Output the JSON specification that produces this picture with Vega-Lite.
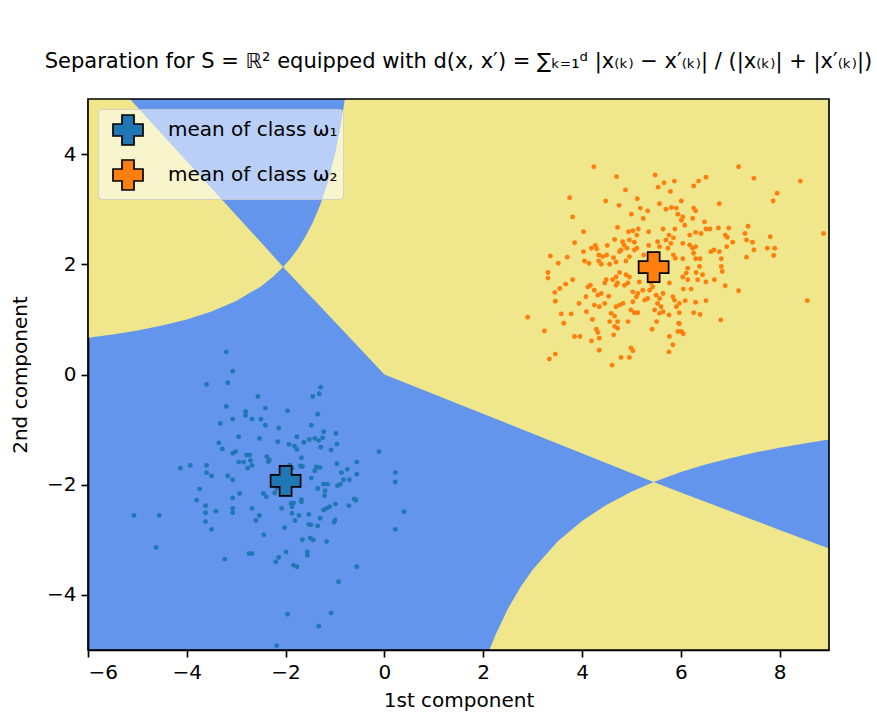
{
  "$schema": "https://vega.github.io/schema/vega-lite/v6.json",
  "width": 741,
  "height": 551,
  "autosize": {"type": "none"},
  "padding": {"left": 88, "top": 99, "right": 48, "bottom": 63},
  "background": "white",
  "title": {
    "text": "Separation for S = ℝ² equipped with d(x, x′) = ∑ₖ₌₁ᵈ |x₍ₖ₎ − x′₍ₖ₎| / (|x₍ₖ₎| + |x′₍ₖ₎|)",
    "anchor": "middle",
    "offset": 9,
    "baseline": "alphabetic",
    "font": "DejaVu Sans",
    "fontSize": 21,
    "fontWeight": "normal",
    "color": "black"
  },
  "config": {
    "view": {"fill": "#6495ED", "stroke": null},
    "axis": {
      "domainColor": "black", "domainWidth": 1.66,
      "tickColor": "black", "tickWidth": 1.66, "tickSize": 7,
      "labelFont": "DejaVu Sans", "labelFontSize": 20, "labelColor": "black", "labelPadding": 5,
      "titleFont": "DejaVu Sans", "titleFontSize": 20, "titleColor": "black", "titleFontWeight": "normal",
      "grid": false, "zindex": 1
    },
    "axisX": {"titlePadding": 8},
    "axisY": {"titlePadding": 16},
    "legend": {
      "orient": "top-left", "offset": 10, "padding": 5,
      "fillColor": "rgba(255,255,255,0.55)", "strokeColor": "rgba(204,204,204,0.8)", "cornerRadius": 4,
      "labelFont": "DejaVu Sans", "labelFontSize": 20, "labelColor": "black", "labelLimit": 500,
      "symbolType": "cross", "symbolSize": 900, "symbolStrokeColor": "black", "symbolStrokeWidth": 1.7,
      "symbolOffset": 9, "labelOffset": 24, "rowPadding": 7
    }
  },
  "datasets": {
    "bg": [
      {"r": "A", "x": -6, "lo": 0.666, "hi": 5},
      {"r": "A", "x": -5.5, "lo": 0.727, "hi": 5},
      {"r": "A", "x": -5.15, "lo": 0.776, "hi": 5},
      {"r": "A", "x": -5, "lo": 0.800, "hi": 4.85},
      {"r": "A", "x": -4.5, "lo": 0.888, "hi": 4.36},
      {"r": "A", "x": -4, "lo": 0.999, "hi": 3.87},
      {"r": "A", "x": -3.5, "lo": 1.142, "hi": 3.38},
      {"r": "A", "x": -3, "lo": 1.333, "hi": 2.89},
      {"r": "A", "x": -2.5, "lo": 1.599, "hi": 2.40},
      {"r": "A", "x": -2.25, "lo": 1.777, "hi": 2.15},
      {"r": "A", "x": -2.05, "lo": 1.950, "hi": 1.950},
      {"r": "B", "x": -2.05, "lo": 1.950, "hi": 1.950},
      {"r": "B", "x": -1.9, "lo": 1.807, "hi": 2.104},
      {"r": "B", "x": -1.75, "lo": 1.665, "hi": 2.284},
      {"r": "B", "x": -1.6, "lo": 1.522, "hi": 2.498},
      {"r": "B", "x": -1.45, "lo": 1.379, "hi": 2.757},
      {"r": "B", "x": -1.3, "lo": 1.237, "hi": 3.075},
      {"r": "B", "x": -1.15, "lo": 1.094, "hi": 3.476},
      {"r": "B", "x": -1.0, "lo": 0.951, "hi": 3.998},
      {"r": "B", "x": -0.9, "lo": 0.856, "hi": 4.442},
      {"r": "B", "x": -0.8, "lo": 0.760, "hi": 5},
      {"r": "B", "x": 0, "lo": 0, "hi": 5},
      {"r": "B", "x": 5.45, "lo": -1.95, "hi": 5},
      {"r": "B", "x": 6, "lo": -1.771, "hi": 5},
      {"r": "B", "x": 6.5, "lo": -1.635, "hi": 5},
      {"r": "B", "x": 7, "lo": -1.518, "hi": 5},
      {"r": "B", "x": 7.5, "lo": -1.417, "hi": 5},
      {"r": "B", "x": 8, "lo": -1.328, "hi": 5},
      {"r": "B", "x": 8.5, "lo": -1.250, "hi": 5},
      {"r": "B", "x": 9, "lo": -1.181, "hi": 5},
      {"r": "C", "x": 2.1255, "lo": -5, "hi": -5},
      {"r": "C", "x": 2.25, "lo": -5, "hi": -4.723},
      {"r": "C", "x": 2.5, "lo": -5, "hi": -4.251},
      {"r": "C", "x": 2.75, "lo": -5, "hi": -3.865},
      {"r": "C", "x": 3, "lo": -5, "hi": -3.543},
      {"r": "C", "x": 3.5, "lo": -5, "hi": -3.036},
      {"r": "C", "x": 4, "lo": -5, "hi": -2.657},
      {"r": "C", "x": 4.5, "lo": -5, "hi": -2.362},
      {"r": "C", "x": 5, "lo": -5, "hi": -2.126},
      {"r": "C", "x": 5.45, "lo": -5, "hi": -1.950},
      {"r": "C", "x": 6, "lo": -5, "hi": -2.14},
      {"r": "C", "x": 7, "lo": -5, "hi": -2.48},
      {"r": "C", "x": 8, "lo": -5, "hi": -2.82},
      {"r": "C", "x": 9, "lo": -5, "hi": -3.16}
    ],
    "c1": [
      {"x": -3.20, "y": 0.41}, {"x": -3.07, "y": 0.06}, {"x": -3.60, "y": -0.18}, {"x": -3.17, "y": -0.15},
      {"x": -2.56, "y": -0.40}, {"x": -3.20, "y": -0.58}, {"x": -2.81, "y": -0.67}, {"x": -2.81, "y": -0.74},
      {"x": -2.41, "y": -0.61}, {"x": -3.07, "y": -0.81}, {"x": -2.68, "y": -0.81}, {"x": -2.50, "y": -0.81},
      {"x": -2.41, "y": -0.92}, {"x": -3.32, "y": -0.89}, {"x": -2.95, "y": -1.13}, {"x": -2.53, "y": -1.16},
      {"x": -3.35, "y": -1.24}, {"x": -3.28, "y": -1.35}, {"x": -3.07, "y": -1.43}, {"x": -3.01, "y": -1.40},
      {"x": -2.79, "y": -1.46}, {"x": -2.73, "y": -1.46}, {"x": -2.38, "y": -1.49}, {"x": -2.71, "y": -1.56},
      {"x": -2.95, "y": -1.59}, {"x": -2.85, "y": -1.59}, {"x": -2.68, "y": -1.65}, {"x": -2.77, "y": -1.70},
      {"x": -2.35, "y": -1.58}, {"x": -4.13, "y": -1.70}, {"x": -3.93, "y": -1.65}, {"x": -3.60, "y": -1.65},
      {"x": -3.60, "y": -1.78}, {"x": -3.50, "y": -1.84}, {"x": -3.17, "y": -1.84}, {"x": -3.07, "y": -1.91},
      {"x": -3.74, "y": -2.08}, {"x": -3.07, "y": -2.24}, {"x": -2.93, "y": -2.16}, {"x": -2.45, "y": -2.16},
      {"x": -2.39, "y": -2.22}, {"x": -3.80, "y": -2.28},
      {"x": -1.29, "y": -0.23}, {"x": -1.32, "y": -0.35}, {"x": -1.45, "y": -0.40}, {"x": -1.96, "y": -0.66},
      {"x": -1.35, "y": -0.72}, {"x": -1.48, "y": -0.92}, {"x": -2.14, "y": -0.97}, {"x": -1.23, "y": -1.04},
      {"x": -0.98, "y": -1.07}, {"x": -1.77, "y": -1.13}, {"x": -2.16, "y": -1.22}, {"x": -1.93, "y": -1.27},
      {"x": -1.82, "y": -1.30}, {"x": -1.63, "y": -1.23}, {"x": -1.52, "y": -1.18}, {"x": -1.41, "y": -1.16},
      {"x": -1.33, "y": -1.20}, {"x": -1.25, "y": -1.15}, {"x": -0.96, "y": -1.26}, {"x": -1.29, "y": -1.32},
      {"x": -1.77, "y": -1.36}, {"x": -1.08, "y": -1.37}, {"x": -0.11, "y": -1.40}, {"x": -1.68, "y": -1.51},
      {"x": -2.33, "y": -1.55}, {"x": -1.70, "y": -1.66}, {"x": -1.66, "y": -1.67}, {"x": -1.92, "y": -1.64},
      {"x": -1.87, "y": -1.70}, {"x": -0.96, "y": -1.62}, {"x": -0.56, "y": -1.59}, {"x": -1.38, "y": -1.68},
      {"x": -1.30, "y": -1.69}, {"x": -1.41, "y": -1.75}, {"x": -0.87, "y": -1.78}, {"x": -0.75, "y": -1.72},
      {"x": -0.56, "y": -1.81}, {"x": 0.22, "y": -1.78}, {"x": 0.22, "y": -1.95}, {"x": -1.48, "y": -1.88},
      {"x": -1.23, "y": -1.99}, {"x": -1.15, "y": -1.99}, {"x": -1.35, "y": -2.07}, {"x": -0.95, "y": -2.02},
      {"x": -0.89, "y": -1.99}, {"x": -0.83, "y": -1.91}, {"x": -0.71, "y": -1.91}, {"x": -1.20, "y": -2.11},
      {"x": -0.61, "y": -2.26}, {"x": -2.18, "y": -2.07}, {"x": -2.22, "y": -2.15}, {"x": -1.68, "y": -2.27},
      {"x": -1.21, "y": -2.20},
      {"x": -3.62, "y": -2.38}, {"x": -3.62, "y": -2.51}, {"x": -3.41, "y": -2.48}, {"x": -3.07, "y": -2.43},
      {"x": -3.07, "y": -2.51}, {"x": -2.68, "y": -2.43}, {"x": -2.53, "y": -2.56}, {"x": -2.60, "y": -2.65},
      {"x": -5.07, "y": -2.56}, {"x": -4.56, "y": -2.56}, {"x": -3.62, "y": -2.67}, {"x": -3.50, "y": -2.81},
      {"x": -2.44, "y": -2.91}, {"x": -4.62, "y": -3.14}, {"x": -2.74, "y": -3.25}, {"x": -2.68, "y": -3.25},
      {"x": -3.23, "y": -3.35},
      {"x": -2.08, "y": -2.43}, {"x": -1.89, "y": -2.34}, {"x": -1.84, "y": -2.33}, {"x": -1.87, "y": -2.40},
      {"x": -1.68, "y": -2.31}, {"x": -1.87, "y": -2.52}, {"x": -1.73, "y": -2.56}, {"x": -1.81, "y": -2.65},
      {"x": -2.02, "y": -2.78}, {"x": -1.53, "y": -2.54}, {"x": -1.30, "y": -2.61}, {"x": -1.23, "y": -2.46},
      {"x": -1.17, "y": -2.43}, {"x": -1.11, "y": -2.40}, {"x": -0.99, "y": -2.35}, {"x": -0.72, "y": -2.38},
      {"x": -0.58, "y": -2.28}, {"x": -1.53, "y": -2.72}, {"x": -1.49, "y": -2.73}, {"x": -1.35, "y": -2.75},
      {"x": -1.00, "y": -2.64}, {"x": -1.02, "y": -2.68}, {"x": 0.40, "y": -2.49}, {"x": 0.22, "y": -2.81},
      {"x": -1.66, "y": -3.00}, {"x": -1.50, "y": -2.97}, {"x": -1.44, "y": -3.00}, {"x": -1.17, "y": -3.03},
      {"x": -1.99, "y": -3.22}, {"x": -1.56, "y": -3.22}, {"x": -1.56, "y": -3.28}, {"x": -2.14, "y": -3.32},
      {"x": -2.20, "y": -3.40}, {"x": -1.84, "y": -3.46}, {"x": -1.77, "y": -3.49}, {"x": -0.56, "y": -3.49},
      {"x": -0.93, "y": -3.76}, {"x": -1.96, "y": -4.35}, {"x": -1.08, "y": -4.33}, {"x": -1.33, "y": -4.57},
      {"x": -2.18, "y": -4.92}
    ],
    "c2": [
      {"x": 4.24, "y": 3.77}, {"x": 4.70, "y": 3.59}, {"x": 5.48, "y": 3.62}, {"x": 5.54, "y": 3.40},
      {"x": 5.66, "y": 3.48}, {"x": 5.79, "y": 3.32}, {"x": 5.87, "y": 3.51}, {"x": 4.88, "y": 3.35},
      {"x": 3.75, "y": 3.21}, {"x": 4.48, "y": 3.15}, {"x": 4.75, "y": 3.07}, {"x": 5.12, "y": 3.19},
      {"x": 5.18, "y": 3.02}, {"x": 5.33, "y": 2.97}, {"x": 5.57, "y": 3.10}, {"x": 5.70, "y": 3.00},
      {"x": 5.81, "y": 3.03}, {"x": 5.91, "y": 3.02}, {"x": 5.94, "y": 2.91}, {"x": 5.00, "y": 2.91},
      {"x": 5.24, "y": 2.83}, {"x": 3.81, "y": 2.86}, {"x": 4.72, "y": 2.67}, {"x": 4.03, "y": 2.59},
      {"x": 4.94, "y": 2.59}, {"x": 5.03, "y": 2.61}, {"x": 5.14, "y": 2.64}, {"x": 5.11, "y": 2.53},
      {"x": 5.35, "y": 2.59}, {"x": 5.64, "y": 2.64}, {"x": 5.88, "y": 2.64}, {"x": 5.76, "y": 2.53},
      {"x": 5.85, "y": 2.48}, {"x": 3.85, "y": 2.39}, {"x": 4.66, "y": 2.45}, {"x": 4.82, "y": 2.41},
      {"x": 4.85, "y": 2.35}, {"x": 4.96, "y": 2.44}, {"x": 5.06, "y": 2.40}, {"x": 4.19, "y": 2.29},
      {"x": 4.27, "y": 2.34}, {"x": 4.30, "y": 2.28}, {"x": 4.51, "y": 2.34}, {"x": 4.03, "y": 2.23},
      {"x": 4.76, "y": 2.23}, {"x": 4.79, "y": 2.26}, {"x": 4.91, "y": 2.29}, {"x": 5.06, "y": 2.26},
      {"x": 5.11, "y": 2.29}, {"x": 5.35, "y": 2.34}, {"x": 5.53, "y": 2.41}, {"x": 5.57, "y": 2.32},
      {"x": 5.70, "y": 2.44}, {"x": 5.80, "y": 2.38}, {"x": 5.74, "y": 2.29}, {"x": 3.36, "y": 2.15},
      {"x": 3.70, "y": 2.13}, {"x": 3.52, "y": 2.02}, {"x": 4.05, "y": 2.06}, {"x": 4.14, "y": 2.02},
      {"x": 4.34, "y": 2.17}, {"x": 4.42, "y": 2.14}, {"x": 4.34, "y": 2.06}, {"x": 4.50, "y": 2.17},
      {"x": 4.64, "y": 2.12}, {"x": 4.69, "y": 2.04}, {"x": 4.96, "y": 2.14}, {"x": 4.89, "y": 2.06},
      {"x": 4.39, "y": 2.00}, {"x": 4.56, "y": 2.00}, {"x": 5.25, "y": 2.17}, {"x": 5.85, "y": 2.17},
      {"x": 5.89, "y": 2.11},
      {"x": 7.17, "y": 3.77}, {"x": 7.48, "y": 3.56}, {"x": 8.42, "y": 3.51}, {"x": 7.95, "y": 3.29},
      {"x": 7.87, "y": 3.15}, {"x": 6.51, "y": 3.58}, {"x": 6.36, "y": 3.51}, {"x": 6.26, "y": 3.42},
      {"x": 6.78, "y": 3.10}, {"x": 6.01, "y": 3.15}, {"x": 6.26, "y": 3.02}, {"x": 6.30, "y": 2.97},
      {"x": 6.04, "y": 2.86}, {"x": 6.01, "y": 2.80}, {"x": 6.08, "y": 2.71}, {"x": 6.24, "y": 2.83},
      {"x": 6.48, "y": 2.77}, {"x": 6.51, "y": 2.64}, {"x": 6.59, "y": 2.64}, {"x": 6.76, "y": 2.66},
      {"x": 6.97, "y": 2.66}, {"x": 7.36, "y": 2.69}, {"x": 6.30, "y": 2.58}, {"x": 6.18, "y": 2.53},
      {"x": 6.41, "y": 2.56}, {"x": 6.90, "y": 2.53}, {"x": 6.94, "y": 2.49}, {"x": 7.30, "y": 2.56},
      {"x": 7.33, "y": 2.44}, {"x": 7.81, "y": 2.50}, {"x": 8.89, "y": 2.56}, {"x": 7.05, "y": 2.40},
      {"x": 7.45, "y": 2.40}, {"x": 7.48, "y": 2.26}, {"x": 6.93, "y": 2.32}, {"x": 7.75, "y": 2.29},
      {"x": 7.90, "y": 2.29}, {"x": 7.88, "y": 2.16}, {"x": 7.33, "y": 2.13}, {"x": 6.61, "y": 2.23},
      {"x": 6.67, "y": 2.26}, {"x": 6.78, "y": 2.23}, {"x": 6.82, "y": 2.10}, {"x": 6.39, "y": 2.10},
      {"x": 6.30, "y": 2.10}, {"x": 6.04, "y": 2.38}, {"x": 6.18, "y": 2.35}, {"x": 6.24, "y": 2.29},
      {"x": 6.30, "y": 2.32}, {"x": 6.26, "y": 2.20}, {"x": 6.04, "y": 2.10}, {"x": 6.38, "y": 1.96},
      {"x": 6.82, "y": 1.96}, {"x": 6.14, "y": 1.93},
      {"x": 3.31, "y": 1.85}, {"x": 3.31, "y": 1.75}, {"x": 3.81, "y": 1.72}, {"x": 3.67, "y": 1.64},
      {"x": 3.55, "y": 1.56}, {"x": 3.45, "y": 1.49}, {"x": 3.46, "y": 1.33}, {"x": 2.90, "y": 1.04},
      {"x": 3.24, "y": 0.79}, {"x": 3.58, "y": 1.10}, {"x": 3.78, "y": 1.10}, {"x": 3.63, "y": 0.93},
      {"x": 3.94, "y": 1.29}, {"x": 4.09, "y": 1.14}, {"x": 4.12, "y": 1.59}, {"x": 4.17, "y": 1.62},
      {"x": 4.08, "y": 1.41}, {"x": 4.25, "y": 1.53}, {"x": 4.32, "y": 1.44}, {"x": 4.39, "y": 1.47},
      {"x": 4.25, "y": 1.26}, {"x": 4.35, "y": 1.23}, {"x": 4.46, "y": 1.29}, {"x": 4.54, "y": 1.42},
      {"x": 4.46, "y": 1.66}, {"x": 4.49, "y": 1.72}, {"x": 4.62, "y": 1.72}, {"x": 4.69, "y": 1.77},
      {"x": 4.72, "y": 1.66}, {"x": 4.69, "y": 1.62}, {"x": 4.76, "y": 1.85}, {"x": 4.89, "y": 1.81},
      {"x": 4.96, "y": 1.77}, {"x": 4.86, "y": 1.62}, {"x": 4.93, "y": 1.66}, {"x": 5.03, "y": 1.50},
      {"x": 5.10, "y": 1.41}, {"x": 5.13, "y": 1.47}, {"x": 5.03, "y": 1.32}, {"x": 4.76, "y": 1.26},
      {"x": 4.83, "y": 1.29}, {"x": 4.69, "y": 1.23}, {"x": 4.99, "y": 1.17}, {"x": 5.06, "y": 1.12},
      {"x": 5.13, "y": 1.12}, {"x": 4.59, "y": 1.11}, {"x": 4.66, "y": 1.06}, {"x": 4.56, "y": 0.96},
      {"x": 4.72, "y": 0.96}, {"x": 4.66, "y": 0.87}, {"x": 4.72, "y": 0.84}, {"x": 4.21, "y": 1.00},
      {"x": 4.93, "y": 0.96}, {"x": 4.29, "y": 0.82}, {"x": 4.32, "y": 0.76}, {"x": 4.35, "y": 0.66},
      {"x": 4.64, "y": 0.72}, {"x": 3.85, "y": 0.69}, {"x": 3.96, "y": 0.69}, {"x": 4.19, "y": 0.61},
      {"x": 4.35, "y": 0.44}, {"x": 4.99, "y": 0.48}, {"x": 5.03, "y": 0.43}, {"x": 4.79, "y": 0.31},
      {"x": 4.96, "y": 0.31}, {"x": 3.46, "y": 0.37}, {"x": 3.34, "y": 0.28}, {"x": 4.61, "y": 0.17},
      {"x": 5.16, "y": 1.68}, {"x": 5.23, "y": 1.53}, {"x": 5.27, "y": 1.35}, {"x": 5.33, "y": 1.38},
      {"x": 5.37, "y": 1.53}, {"x": 5.40, "y": 1.66}, {"x": 5.43, "y": 1.59}, {"x": 5.50, "y": 1.44},
      {"x": 5.57, "y": 1.38}, {"x": 5.64, "y": 1.47}, {"x": 5.53, "y": 1.29}, {"x": 5.60, "y": 1.23},
      {"x": 5.64, "y": 1.14}, {"x": 5.57, "y": 1.11}, {"x": 5.47, "y": 1.17}, {"x": 5.77, "y": 1.66},
      {"x": 5.84, "y": 1.41}, {"x": 5.87, "y": 1.35}, {"x": 5.91, "y": 1.23}, {"x": 5.76, "y": 1.08},
      {"x": 5.96, "y": 0.93}, {"x": 5.94, "y": 0.78}, {"x": 5.51, "y": 0.96}, {"x": 5.42, "y": 0.82},
      {"x": 5.77, "y": 0.69}, {"x": 5.84, "y": 0.54}, {"x": 5.76, "y": 0.41},
      {"x": 6.04, "y": 1.77}, {"x": 6.11, "y": 1.84}, {"x": 6.14, "y": 1.72}, {"x": 6.31, "y": 1.85},
      {"x": 6.34, "y": 1.72}, {"x": 6.44, "y": 1.81}, {"x": 6.51, "y": 1.68}, {"x": 6.68, "y": 1.72},
      {"x": 6.84, "y": 1.87}, {"x": 6.90, "y": 1.61}, {"x": 7.17, "y": 1.52}, {"x": 6.05, "y": 1.55},
      {"x": 6.21, "y": 1.55}, {"x": 5.97, "y": 1.29}, {"x": 6.09, "y": 1.34}, {"x": 6.30, "y": 1.31},
      {"x": 6.51, "y": 1.34}, {"x": 5.97, "y": 1.12}, {"x": 6.26, "y": 1.12}, {"x": 6.39, "y": 1.09},
      {"x": 6.81, "y": 0.99}, {"x": 8.56, "y": 1.34}, {"x": 5.97, "y": 0.92}, {"x": 6.01, "y": 0.78},
      {"x": 6.05, "y": 0.74}
    ],
    "means": [
      {"x": -2.0, "y": -1.93, "label": "mean of class ω₁"},
      {"x": 5.45, "y": 1.95, "label": "mean of class ω₂"}
    ]
  },
  "encoding": {
    "x": {"type": "quantitative", "scale": {"domain": [-6, 9], "nice": false, "zero": false},
          "axis": {"values": [-6, -4, -2, 0, 2, 4, 6, 8], "title": "1st component"}},
    "y": {"type": "quantitative", "scale": {"domain": [-5, 5], "nice": false, "zero": false},
          "axis": {"values": [-4, -2, 0, 2, 4], "title": "2nd component"}}
  },
  "layer": [
    {
      "data": {"name": "bg"},
      "mark": {"type": "area", "color": "#F0E68C", "opacity": 1, "clip": true, "interpolate": "linear"},
      "encoding": {
        "x": {"field": "x", "type": "quantitative"},
        "y": {"field": "lo", "type": "quantitative", "stack": null},
        "y2": {"field": "hi"},
        "detail": {"field": "r"}
      }
    },
    {
      "data": {"name": "c1"},
      "mark": {"type": "point", "filled": true, "size": 24, "opacity": 1, "color": "#1f77b4", "shape": "circle"},
      "encoding": {
        "x": {"field": "x", "type": "quantitative"},
        "y": {"field": "y", "type": "quantitative"}
      }
    },
    {
      "data": {"name": "c2"},
      "mark": {"type": "point", "filled": true, "size": 24, "opacity": 1, "color": "#ff7f0e", "shape": "circle"},
      "encoding": {
        "x": {"field": "x", "type": "quantitative"},
        "y": {"field": "y", "type": "quantitative"}
      }
    },
    {
      "data": {"values": [{"a": 1}]},
      "mark": {"type": "rect", "fill": null, "fillOpacity": 0, "stroke": "black", "strokeWidth": 1.66},
      "encoding": {
        "x": {"datum": -6, "type": "quantitative"},
        "x2": {"datum": 9},
        "y": {"datum": -5, "type": "quantitative"},
        "y2": {"datum": 5}
      }
    },
    {
      "data": {"name": "means"},
      "mark": {"type": "point", "shape": "cross", "filled": true, "size": 900, "opacity": 1, "stroke": "black", "strokeWidth": 1.7},
      "encoding": {
        "x": {"field": "x", "type": "quantitative"},
        "y": {"field": "y", "type": "quantitative"},
        "color": {"field": "label", "type": "nominal",
                  "scale": {"domain": ["mean of class ω₁", "mean of class ω₂"], "range": ["#1f77b4", "#ff7f0e"]},
                  "legend": {"title": null}}
      }
    }
  ]
}
